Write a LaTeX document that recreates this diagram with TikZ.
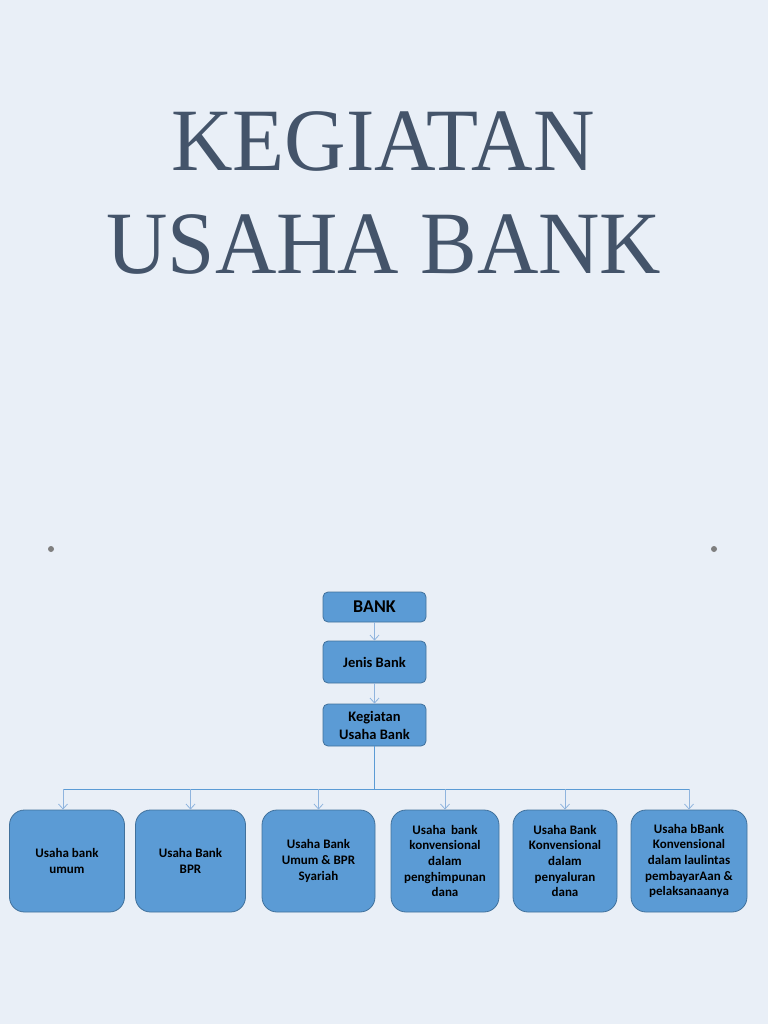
\documentclass[tikz,border=0pt]{standalone}
\usepackage{fontspec}
\setmainfont{Carlito}
\newfontfamily\titlefont{Liberation Serif}
\usetikzlibrary{arrows.meta}
\definecolor{bgc}{HTML}{E9EFF7}
\definecolor{boxfill}{HTML}{5B9BD5}
\definecolor{boxline}{HTML}{41719C}
\definecolor{titlec}{HTML}{44546A}
\definecolor{linec}{HTML}{5B9BD5}
\definecolor{arrc}{HTML}{8FB4DE}
\definecolor{dotc}{HTML}{7F7F7F}
\tikzset{
  topbox/.style={draw=boxline, fill=boxfill, line width=0.8pt, rounded corners=5pt,
    minimum width=103pt, inner sep=0pt, align=center,
    font=\fontsize{14.5}{18}\selectfont\bfseries},
  botbox/.style={draw=boxline, fill=boxfill, line width=0.8pt, rounded corners=15pt,
    minimum height=102pt, inner sep=0pt, align=center,
    font=\fontsize{13}{15.6}\selectfont\bfseries},
  conn/.style={draw=linec, line width=0.9pt},
  arr/.style={draw=arrc, line width=0.9pt, -{Straight Barb[length=5pt,width=9pt,line width=0.8pt]}},
  titletext/.style={text=titlec, inner sep=0pt, anchor=base, font=\titlefont\fontsize{89}{89}\selectfont},
  dotstyle/.style={circle, fill=dotc, inner sep=0pt, minimum size=6pt}
}
\begin{document}
\begin{tikzpicture}[x=1pt,y=-1pt]
\fill[bgc] (0,0) rectangle (768,1024);
\useasboundingbox (0,0) rectangle (768,1024);

\node[titletext] (t1) at (383,171) {\scalebox{0.957}[1]{KEGIATAN}};
\node[titletext] (t2) at (384,273) {\scalebox{0.955}[1]{USAHA BANK}};

\node[dotstyle] (d1) at (51,549) {};
\node[dotstyle] (d2) at (714,549) {};

\node[topbox, minimum height=30pt, font=\fontsize{18}{20}\selectfont\bfseries] (bank) at (374.5,607) {BANK};
\node[topbox, minimum height=42pt] (jenis) at (374.5,662) {Jenis Bank};
\node[topbox, minimum height=42pt] (keg) at (374.5,725) {Kegiatan\\Usaha Bank};

\node[botbox, minimum width=115pt] (b1) at (67,861) {Usaha bank\\umum};
\node[botbox, minimum width=110pt] (b2) at (190.5,861) {Usaha Bank\\BPR};
\node[botbox, minimum width=113pt] (b3) at (318.5,861) {Usaha Bank\\Umum \& BPR\\Syariah};
\node[botbox, minimum width=108pt] (b4) at (445,861) {Usaha\, bank\\konvensional\\dalam\\penghimpunan\\dana};
\node[botbox, minimum width=104pt] (b5) at (565,861) {Usaha Bank\\Konvensional\\dalam\\penyaluran\\dana};
\node[botbox, minimum width=116pt] (b6) at (689,861) {Usaha bBank\\Konvensional\\dalam laulintas\\pembayarAan \&\\pelaksanaanya};

\draw[arr] (bank.south) -- (jenis.north);
\draw[arr] (jenis.south) -- (keg.north);

\coordinate (j) at (374.5,789);
\coordinate (jl) at (63,789);
\coordinate (jr) at (689,789);
\draw[conn] (keg.south) -- (j);
\draw[conn] (jl) -- (jr);
\draw[arr] (jl) -- ([xshift=-4pt]b1.north);
\draw[arr] (j -| b2.north) -- (b2.north);
\draw[arr] (j -| b3.north) -- (b3.north);
\draw[arr] (j -| b4.north) -- (b4.north);
\draw[arr] (j -| b5.north) -- (b5.north);
\draw[arr] (jr) -- (b6.north);
\end{tikzpicture}
\end{document}
